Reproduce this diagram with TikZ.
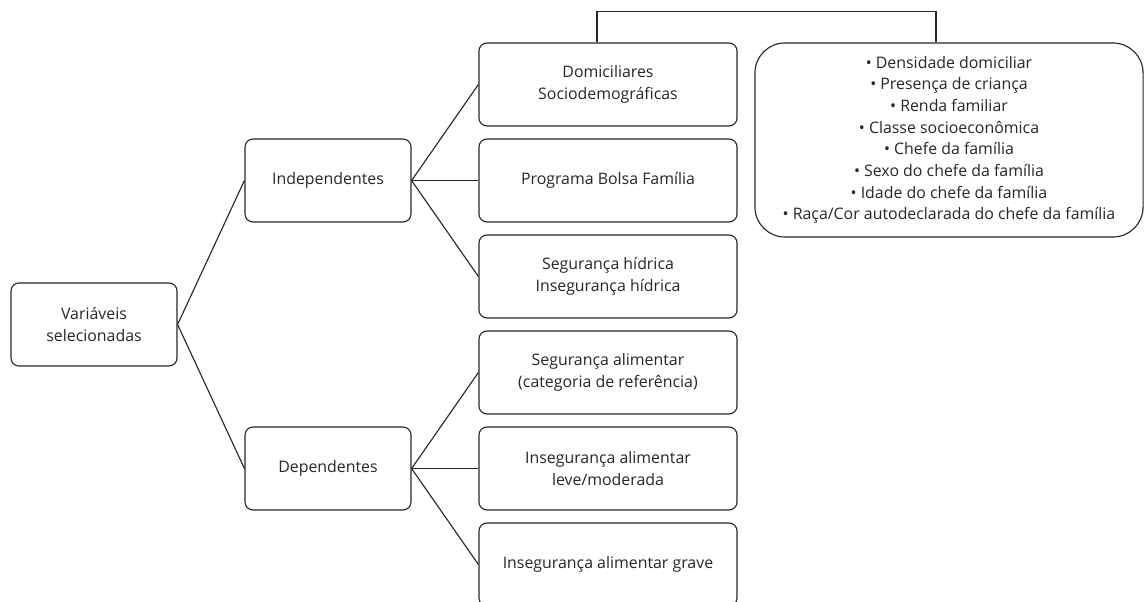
\documentclass[tikz,border=0pt]{standalone}
\usepackage{fontspec}
\setmainfont{Open Sans}

\begin{document}
\begin{tikzpicture}[x=0.025cm,y=-0.025cm,
  caixa/.style={draw=black!85,rounded corners=0.2cm,minimum height=2.075cm,align=center,
    text=black!85,line width=0.8pt,font=\fontsize{11.3}{15.4}\selectfont},
  caixap/.style={caixa,minimum width=4.15cm},
  caixag/.style={caixa,minimum width=6.45cm},
  liga/.style={draw=black!85,line width=0.8pt}]
\useasboundingbox (0,0) rectangle (1144,602);
\node[caixap] (var) at (94,324.5) {Variáveis\\selecionadas};
\node[caixap] (ind) at (328,180.5) {Independentes};
\node[caixap] (dep) at (328,468.5) {Dependentes};
\node[caixag] (dom) at (608,84.5) {Domiciliares\\Sociodemográficas};
\node[caixag] (pbf) at (608,180.5) {Programa Bolsa Família};
\node[caixag] (hid) at (608,276.5) {Segurança hídrica\\Insegurança hídrica};
\node[caixag] (sa) at (608,372.5) {Segurança alimentar\\(categoria de referência)};
\node[caixag] (ialm) at (608,468.5) {Insegurança alimentar\\leve/moderada};
\node[caixag] (iag) at (608,564.5) {Insegurança alimentar grave};
\node[caixa,rounded corners=0.75cm,minimum width=9.7cm,minimum height=4.85cm] (lista) at (949,140)
{• Densidade domiciliar\\• Presença de criança\\• Renda familiar\\• Classe socioeconômica\\
• Chefe da família\\• Sexo do chefe da família\\• Idade do chefe da família\\
• Raça/Cor autodeclarada do chefe da família};
\draw[liga] (var.east) -- (ind.west);
\draw[liga] (var.east) -- (dep.west);
\draw[liga] (ind.east) -- (dom.west);
\draw[liga] (ind.east) -- (pbf.west);
\draw[liga] (ind.east) -- (hid.west);
\draw[liga] (dep.east) -- (sa.west);
\draw[liga] (dep.east) -- (ialm.west);
\draw[liga] (dep.east) -- (iag.west);
\draw[liga] ([xshift=-0.275cm]dom.north) -- ++(0,-31) -| ([xshift=-0.325cm]lista.north);
\end{tikzpicture}
\end{document}
